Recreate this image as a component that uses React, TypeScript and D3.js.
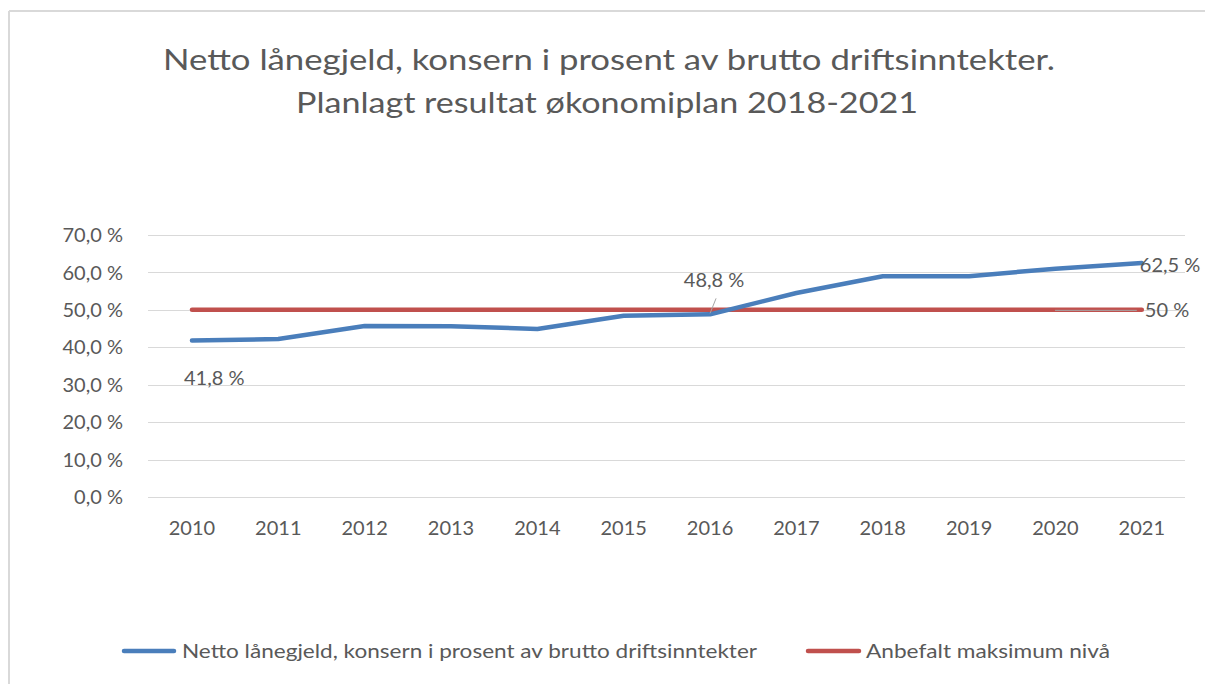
import React from "react";
import * as d3 from "d3";

const years = ["2010", "2011", "2012", "2013", "2014", "2015", "2016", "2017", "2018", "2019", "2020", "2021"];
const netDebt = [41.8, 42.2, 45.7, 45.6, 44.9, 48.4, 48.8, 54.5, 59.0, 59.0, 61.0, 62.5];
const maxLevel = [50, 50, 50, 50, 50, 50, 50, 50, 50, 50, 50, 50];
const yTicks = [0, 10, 20, 30, 40, 50, 60, 70];
const titleLines = [
  "Netto lånegjeld, konsern i prosent av brutto driftsinntekter.",
  "Planlagt resultat økonomiplan 2018-2021",
];
const seriesNames = [
  "Netto lånegjeld, konsern i prosent av brutto driftsinntekter",
  "Anbefalt maksimum nivå",
];

const W = 1205;
const H = 684;
const FONT = "Lato, 'Open Sans', sans-serif";
const TXT = "#595959";
const BLUE = "#4a7ebb";
const RED = "#c0504d";

const fmtPct = (v: number, digits = 1) => `${v.toFixed(digits).replace(".", ",")} %`;

export default function App() {
  const x = d3.scalePoint<string>().domain(years).range([148.8, 1185]).padding(0.5);
  const y = d3.scaleLinear().domain([0, 70]).range([497, 235]);
  const line = d3
    .line<number>()
    .x((_, i) => x(years[i]) as number)
    .y((d) => y(d));

  const last = years.length - 1;
  const px = (i: number) => x(years[i]) as number;

  return (
    <svg
      width={W}
      height={H}
      style={{ position: "absolute", left: 0, top: 0, display: "block", background: "#fff" }}
      fontFamily={FONT}
    >
      <rect x={0} y={0} width={W} height={H} fill="#fff" />
      {/* chart border */}
      <line x1={9} y1={11} x2={W} y2={11} stroke="#d9d9d9" strokeWidth={2} />
      <line x1={9} y1={11} x2={9} y2={H} stroke="#d9d9d9" strokeWidth={2} />

      {/* title */}
      <text x={609} y={70} textAnchor="middle" fontSize={28} fill={TXT} textLength={892} lengthAdjust="spacingAndGlyphs">
        {titleLines[0]}
      </text>
      <text x={607} y={113} textAnchor="middle" fontSize={28} fill={TXT} textLength={622} lengthAdjust="spacingAndGlyphs">
        {titleLines[1]}
      </text>

      {/* gridlines & y labels */}
      {yTicks.map((t) => (
        <g key={t}>
          <line x1={148} x2={1185} y1={Math.round(y(t)) + 0.5} y2={Math.round(y(t)) + 0.5} stroke="#d9d9d9" strokeWidth={1} />
          <text x={123} y={y(t)} dy="0.36em" textAnchor="end" fontSize={20} fill={TXT}>
            {fmtPct(t)}
          </text>
        </g>
      ))}

      {/* x labels */}
      {years.map((yr) => (
        <text key={yr} x={x(yr)} y={535} textAnchor="middle" fontSize={20} fill={TXT}>
          {yr}
        </text>
      ))}

      {/* series */}
      <path d={line(maxLevel) || ""} fill="none" stroke={RED} strokeWidth={4.5} strokeLinecap="round" strokeLinejoin="round" />
      <path d={line(netDebt) || ""} fill="none" stroke={BLUE} strokeWidth={4.5} strokeLinecap="round" strokeLinejoin="round" />

      {/* data labels */}
      <text x={px(0) - 8} y={y(netDebt[0]) + 44} fontSize={20} fill={TXT}>
        {fmtPct(netDebt[0])}
      </text>
      <line x1={px(6) + 6} y1={y(netDebt[6]) - 16} x2={px(6)} y2={y(netDebt[6]) - 1} stroke="#a6a6a6" strokeWidth={1} />
      <text x={px(6) + 4} y={y(netDebt[6]) - 27} textAnchor="middle" fontSize={20} fill={TXT}>
        {fmtPct(netDebt[6])}
      </text>
      <text x={px(last) - 2} y={y(netDebt[last]) + 9} fontSize={20} fill={TXT}>
        {fmtPct(netDebt[last])}
      </text>
      <line x1={1055} x2={px(last) - 5} y1={y(maxLevel[last]) + 0.5} y2={y(maxLevel[last]) + 0.5} stroke="#a6a6a6" strokeWidth={1} />
      <text x={px(last) + 3} y={y(maxLevel[last]) + 7} fontSize={20} fill={TXT}>
        {fmtPct(maxLevel[last], 0)}
      </text>

      {/* legend */}
      <line x1={124} x2={174} y1={651} y2={651} stroke={BLUE} strokeWidth={4.5} strokeLinecap="round" />
      <text x={182} y={658} fontSize={20} fill={TXT} textLength={575} lengthAdjust="spacingAndGlyphs">
        {seriesNames[0]}
      </text>
      <line x1={808} x2={859} y1={651} y2={651} stroke={RED} strokeWidth={4.5} strokeLinecap="round" />
      <text x={866} y={658} fontSize={20} fill={TXT} textLength={244} lengthAdjust="spacingAndGlyphs">
        {seriesNames[1]}
      </text>
    </svg>
  );
}
